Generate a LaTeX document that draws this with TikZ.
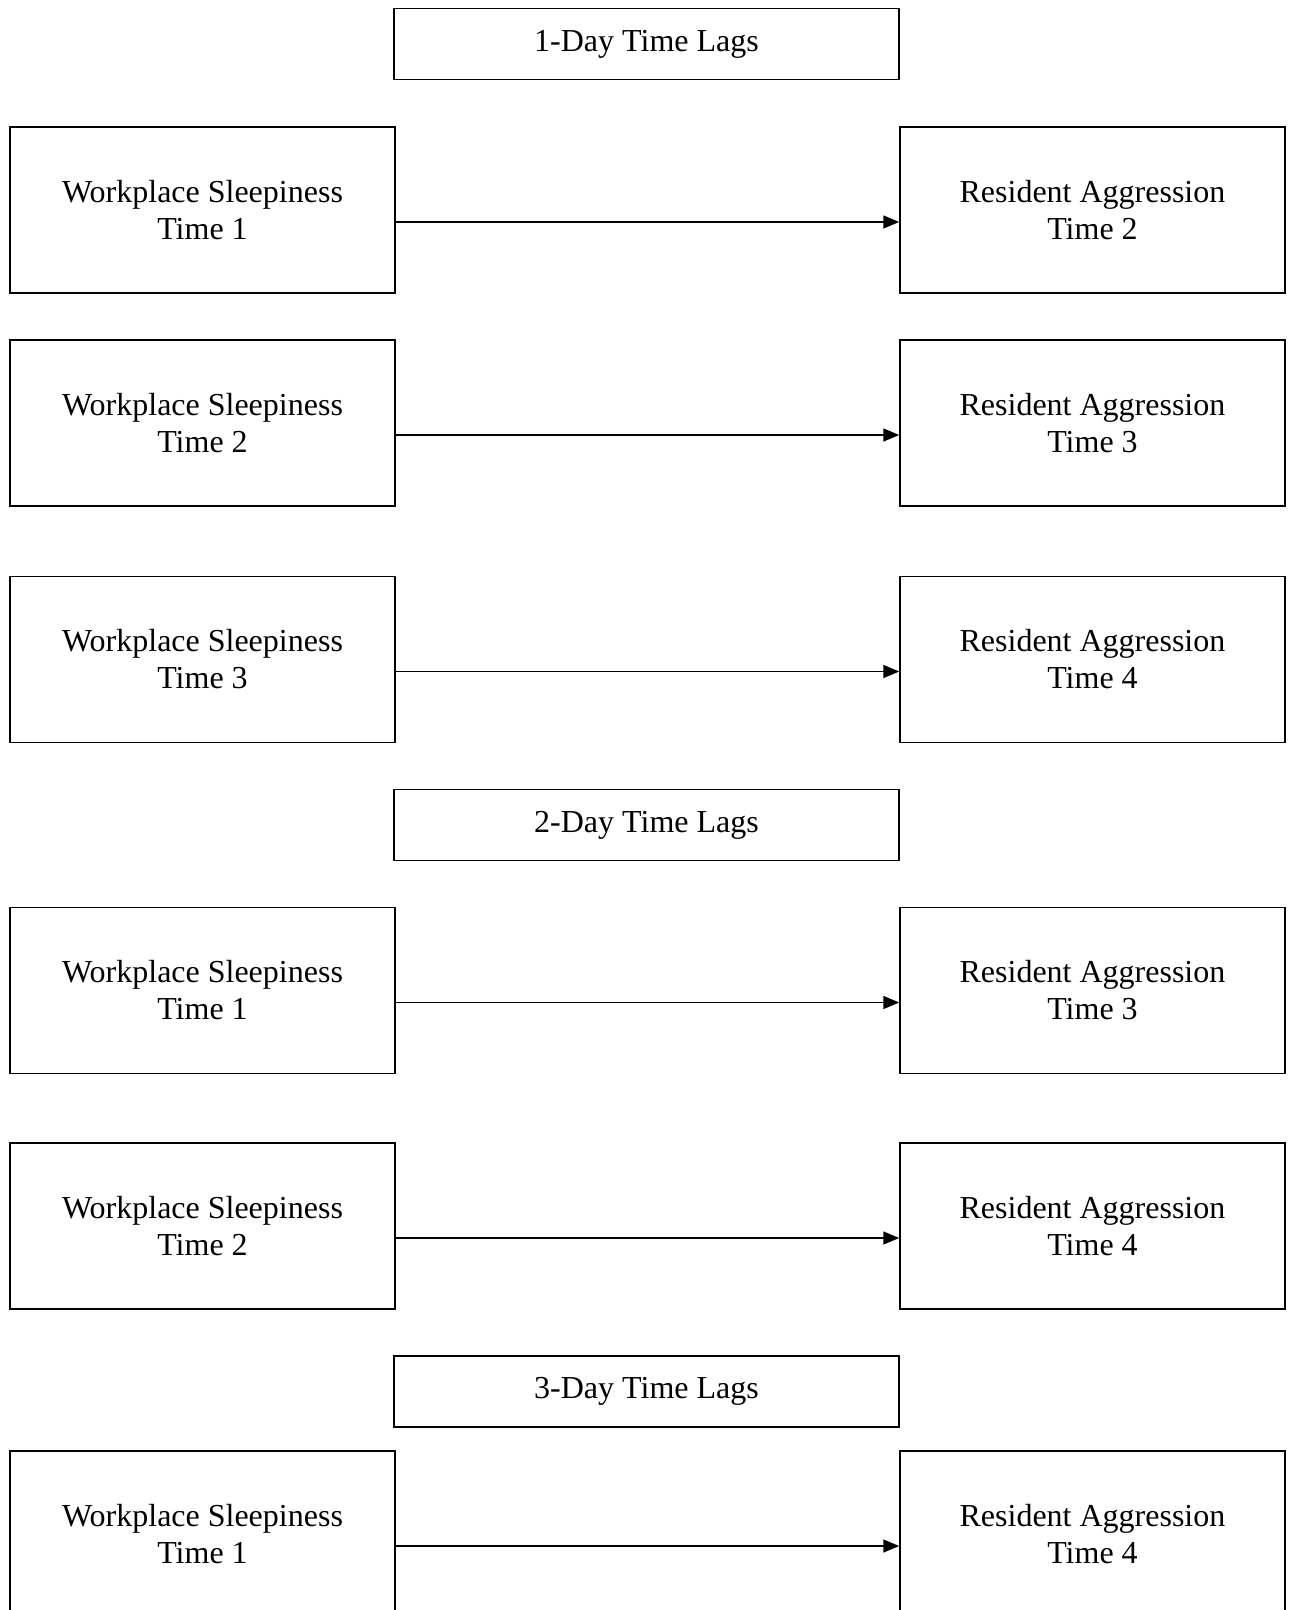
\documentclass[tikz,border=0pt]{standalone}
\usepackage{fontspec}
\setmainfont{Liberation Serif}
\usetikzlibrary{positioning}
\usetikzlibrary{arrows.meta}

\tikzset{
  varbox/.style={draw, line width=1.5pt, minimum width=385pt, minimum height=166pt,
    align=center, inner sep=0pt, font=\fontsize{32}{37}\selectfont},
  lagbox/.style={draw, line width=1.5pt, minimum width=505pt, minimum height=71pt,
    inner sep=0pt, font=\fontsize{32}{37}\selectfont},
  lagarrow/.style={-{Triangle[length=16pt,width=13pt]}, line width=1.5pt}
}

\begin{document}
\begin{tikzpicture}[x=1pt,y=-1pt]
  \useasboundingbox (0,0) rectangle (1293,1610);

  % headings for each lag
  \node[lagbox] (lag1) at (646.5,44) {1-Day Time Lags};
  \node[lagbox] (lag2) at (646.5,825) {2-Day Time Lags};
  \node[lagbox] (lag3) at (646.5,1391.5) {3-Day Time Lags};

  % sleepiness -> aggression pairs
  \foreach \r/\y/\s/\a in {1/210/1/2, 2/423/2/3, 3/659.5/3/4, 4/990.5/1/3, 5/1226/2/4, 6/1534/1/4}
    {
    \node[varbox] (ws\r) at (202.5,\y) {Workplace Sleepiness\\Time \s};
    \node[varbox] (ra\r) at (1092.5,\y) {Resident Aggression\\Time \a};
    \draw[lagarrow] ([yshift=-12pt]ws\r.east) -- ([yshift=-12pt]ra\r.west);
    }
\end{tikzpicture}
\end{document}
